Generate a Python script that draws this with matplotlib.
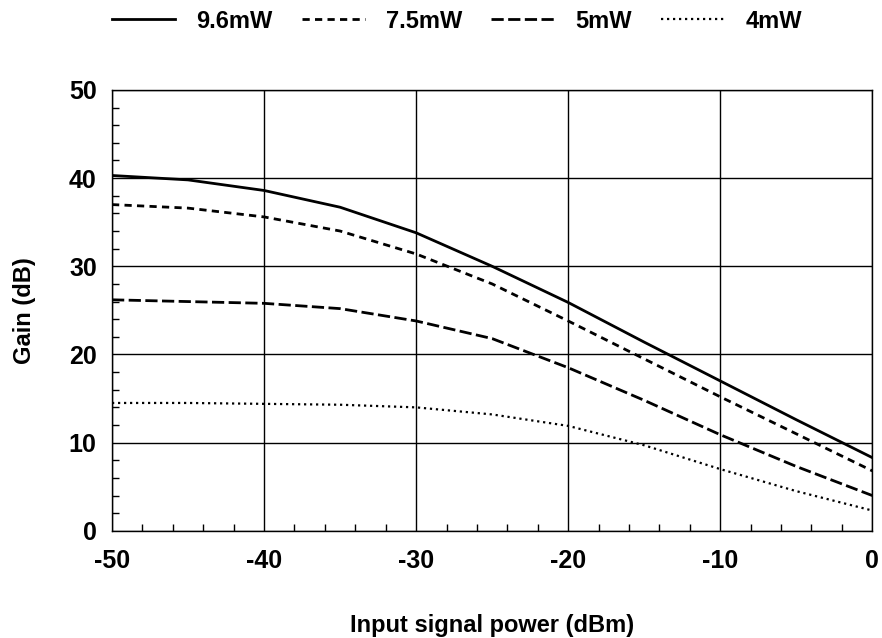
import matplotlib.pyplot as plt
from matplotlib.ticker import MultipleLocator

plt.rcParams['font.family'] = ['Liberation Sans', 'DejaVu Sans']
plt.rcParams['font.weight'] = 'bold'
plt.rcParams['axes.unicode_minus'] = False

power = [-50, -45, -40, -35, -30, -25, -20, -15, -10, -5, 0]
gain_96 = [40.3, 39.8, 38.6, 36.7, 33.8, 30.0, 25.9, 21.4, 17.0, 12.6, 8.3]
gain_75 = [37.0, 36.6, 35.6, 34.0, 31.4, 28.0, 23.8, 19.5, 15.2, 11.0, 6.8]
gain_5 = [26.2, 26.0, 25.8, 25.2, 23.8, 21.8, 18.5, 14.8, 10.9, 7.3, 4.0]
gain_4 = [14.5, 14.5, 14.4, 14.3, 14.0, 13.2, 11.9, 9.7, 7.0, 4.5, 2.3]
labels = ["9.6mW", "7.5mW", "5mW", "4mW"]

fig = plt.figure(figsize=(8.82, 6.38), dpi=100)
ax = fig.add_axes([0.127, 0.168, 0.862, 0.691])

ax.plot(power, gain_96, color='black', lw=2.0, linestyle='-', label=labels[0])
ax.plot(power, gain_75, color='black', lw=2.0, linestyle=(0, (2.6, 1.9)), label=labels[1])
ax.plot(power, gain_5, color='black', lw=2.0, linestyle=(0, (4.4, 1.6)), label=labels[2])
ax.plot(power, gain_4, color='black', lw=1.6, linestyle=(0, (1, 1.7)), label=labels[3])

ax.set_xlim(-50, 0)
ax.set_ylim(0, 50)
ax.xaxis.set_major_locator(MultipleLocator(10))
ax.xaxis.set_minor_locator(MultipleLocator(2))
ax.yaxis.set_major_locator(MultipleLocator(10))
ax.yaxis.set_minor_locator(MultipleLocator(2))
ax.tick_params(which='both', direction='in', top=False, right=False)
ax.tick_params(which='major', length=0, labelsize=18)
ax.tick_params(axis='x', which='major', pad=13)
ax.tick_params(axis='y', which='major', pad=11)
ax.tick_params(which='minor', length=5, width=1)
ax.grid(True, which='major', color='black', lw=1)
for s in ax.spines.values():
    s.set_linewidth(1)

ax.set_xlabel("Input signal power (dBm)", fontsize=17, fontweight='bold')
ax.set_ylabel("Gain (dB)", fontsize=17, fontweight='bold')
ax.xaxis.set_label_coords(0.5, -0.188)
ax.yaxis.set_label_coords(-0.100, 0.5)

fig.legend(loc='center', bbox_to_anchor=(0.518, 1 - 21 / 638), ncol=4, frameon=False,
           handlelength=2.67, handletextpad=0.9, columnspacing=1.23, fontsize=17)

fig.savefig("out.png", dpi=100)
